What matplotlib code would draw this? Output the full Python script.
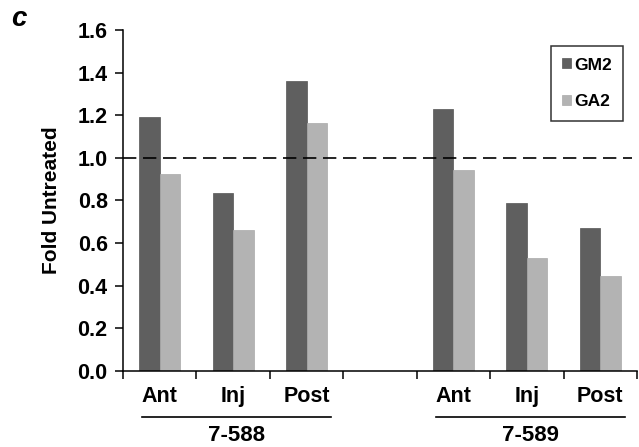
import matplotlib.pyplot as plt
import numpy as np

plt.rcParams['font.family'] = ['Liberation Sans', 'DejaVu Sans']
plt.rcParams['font.weight'] = 'bold'

positions = ["Ant", "Inj", "Post", "", "Ant", "Inj", "Post"]
gm2 = [1.19, 0.835, 1.36, np.nan, 1.23, 0.79, 0.67]
ga2 = [0.925, 0.66, 1.165, np.nan, 0.945, 0.53, 0.445]
groups = ["7-588", "7-589"]
group_span = [(0, 2), (4, 6)]

dark = "#5f5f5f"
light = "#b3b3b3"

fig = plt.figure(figsize=(6.39, 4.47), dpi=100)
ax = fig.add_axes([0.1925, 0.17, 0.8044, 0.763])

x = np.arange(len(positions))
w = 0.28
ax.bar(x - w/2, gm2, w, color=dark, edgecolor="#555555", linewidth=0.5, label="GM2")
ax.bar(x + w/2, ga2, w, color=light, edgecolor="#aaaaaa", linewidth=0.5, label="GA2")

ax.axhline(1.0, xmin=0, xmax=0.99, color="black", lw=1.2, ls=(0, (8, 4)))

ax.set_xlim(-0.5, len(positions) - 0.5)
ax.set_ylim(0, 1.6)
yt = np.arange(0, 1.61, 0.2)
ax.set_yticks(yt)
ax.set_yticklabels([f"{v:.1f}" for v in yt], fontsize=15.5, fontweight="bold")
ax.set_xticks(np.arange(-0.5, len(positions)))
ax.set_xticklabels([])
ax.tick_params(axis="x", direction="out", length=6, width=1.1)
ax.tick_params(axis="y", direction="out", length=6, width=1.1, pad=5)

for s in ["top", "right"]:
    ax.spines[s].set_visible(False)
for s in ["left", "bottom"]:
    ax.spines[s].set_linewidth(1.1)

trans = ax.get_xaxis_transform()
for i, lab in enumerate(positions):
    if lab:
        ax.text(i, -0.076, lab, transform=trans, ha="center", va="center",
                fontsize=15.5, fontweight="bold")

for name, (a, b) in zip(groups, group_span):
    ax.plot([a - 0.24, b + 0.33], [-0.135, -0.135], transform=trans,
            color="black", lw=1.2, clip_on=False)
    ax.text((a + b) / 2 + 0.05, -0.19, name, transform=trans, ha="center",
            va="center", fontsize=16, fontweight="bold")

ax.set_ylabel("Fold Untreated", fontsize=15, fontweight="bold")
ax.yaxis.set_label_coords(-0.121, 0.5)

leg = ax.legend(loc="upper right", bbox_to_anchor=(0.973, 0.952), fontsize=12.5,
                frameon=True, fancybox=False, edgecolor="black", borderaxespad=0,
                handlelength=0.5, handleheight=0.5, handletextpad=0.2,
                labelspacing=1.25, borderpad=0.65)
leg.get_frame().set_linewidth(1.1)

fig.text(0.029, 0.958, "c", fontsize=20, fontweight="bold", style="italic",
         ha="center", va="center")

fig.savefig("out.png", dpi=100)
